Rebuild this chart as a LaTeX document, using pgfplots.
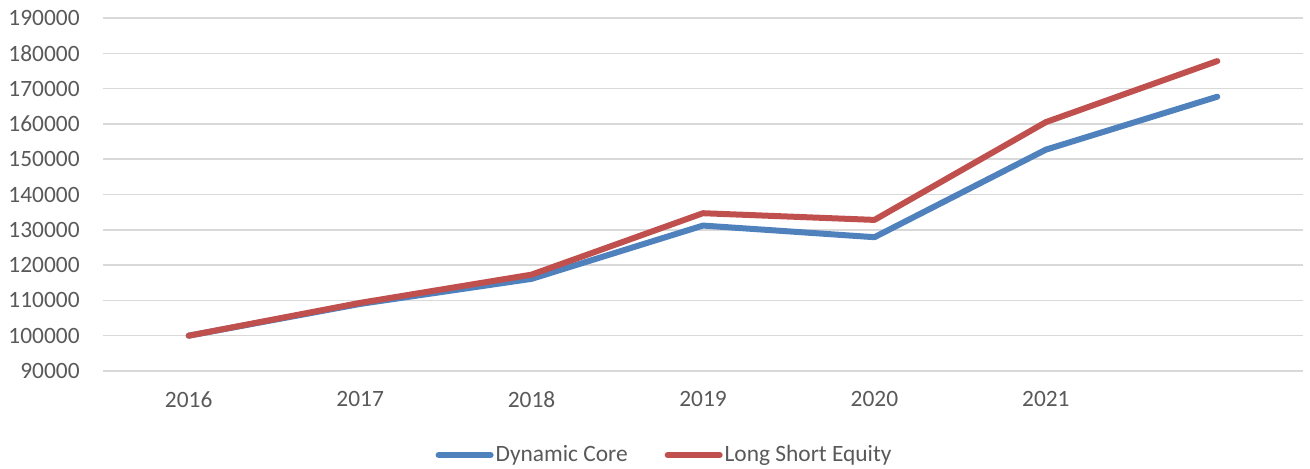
\documentclass[border=0pt]{standalone}
\usepackage{pgfplots}
\pgfplotsset{compat=1.18}
\usepackage{fontspec}
\setmainfont{Carlito}
\definecolor{txt}{HTML}{595959}
\definecolor{gridc}{HTML}{D9D9D9}
\definecolor{blueS}{HTML}{4F81BD}
\definecolor{redS}{HTML}{C0504D}
\begin{document}
\fontsize{11.7pt}{14pt}\selectfont
\begin{tikzpicture}
\useasboundingbox (-51.5pt,-49pt) rectangle (603.5pt,185.5pt);
\begin{axis}[
  at={(0pt,0pt)}, anchor=south west,
  scale only axis, width=600pt, height=176.5pt,
  xmin=-0.5, xmax=6.5, ymin=90000, ymax=190000,
  axis line style={draw=none},
  xtick={0,1,2,3,4,5},
  xticklabels={2016,2017,2018,2019,2020,2021},
  ytick={90000,100000,110000,120000,130000,140000,150000,160000,170000,180000,190000},
  yticklabels={90000,100000,110000,120000,130000,140000,150000,160000,170000,180000,190000},
  scaled y ticks=false,
  major tick length=0pt,
  ymajorgrids, xmajorgrids=false, grid style={draw=gridc, line width=0.75pt},
  tick label style={text=txt, font=\fontsize{11.7pt}{14pt}\selectfont},
  yticklabel style={inner sep=0pt, xshift=-11.5pt},
  xticklabel style={inner sep=0pt, yshift=-10pt},
  legend style={draw=none, fill=none, at={(0.468,-0.238)}, anchor=center,
    legend columns=2, font=\fontsize{11.7pt}{14pt}\selectfont, text=txt,
    /tikz/every even column/.append style={column sep=17.5pt},
    inner sep=0pt, nodes={inner sep=1pt}},
  legend image code/.code={\draw[#1, line width=3pt, line cap=round] (0pt,0pt) -- (26pt,0pt);},
  clip=false,
]
\addplot[blueS, line width=3pt, line cap=round, line join=round] coordinates {
  (0,100000) (1,109000) (2,116100) (3,131200) (4,127900) (5,152700) (6,167700)};
\addlegendentry{Dynamic Core}
\addplot[redS, line width=3pt, line cap=round, line join=round] coordinates {
  (0,100000) (1,109300) (2,117300) (3,134700) (4,132800) (5,160500) (6,177800)};
\addlegendentry{Long Short Equity}
\end{axis}
\end{tikzpicture}
\end{document}
